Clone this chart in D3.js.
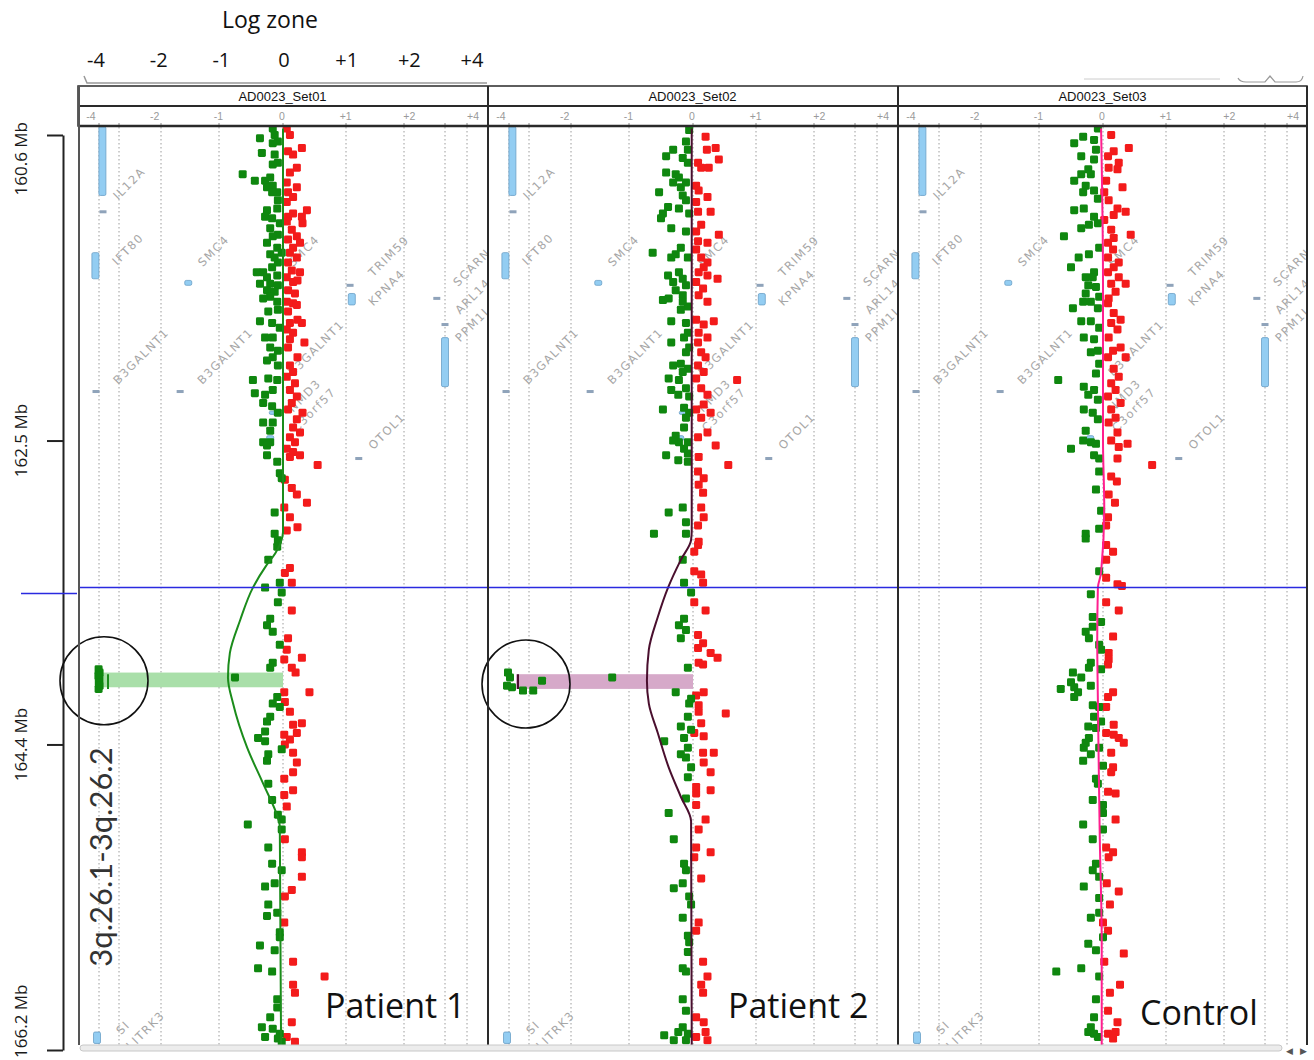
<!DOCTYPE html>
<html>
<head>
<meta charset="utf-8">
<script src="https://cdn.jsdelivr.net/npm/d3@7"></script>
<style>
  body { margin: 0; background: #fff; }
  svg { display: block; }
</style>
</head>
<body>
<div id="chart"></div>
<script>
// ---------- data ----------
const SET_NAMES = ['AD0023_Set01', 'AD0023_Set02', 'AD0023_Set03'];
const SAMPLE_LABELS = ['Patient 1', 'Patient 2', 'Control'];
const ZONE_TICKS = ['-4', '-2', '-1', '0', '+1', '+2', '+4'];
const GRID_VALUES = [-4, -3, -2, -1, 0, 1, 2, 3, 4];
const MB_DOMAIN = [160.6, 166.2];
const MB_TICKS = [160.6, 162.47, 164.33, 166.2];
const MB_TICK_LABELS = ['160.6 Mb', '162.5 Mb', '164.4 Mb', '166.2 Mb'];
const REGION_LABEL = '3q.26.1-3q.26.2';
const CURSOR_MB = 163.37;

// probes: [position Mb, log ratio]
const set01_loss = [[160.56,-0.16],[160.60,-0.13],[160.62,-0.36],[160.64,-0.08],[160.65,-0.16],[160.71,-0.33],[160.72,-0.13],[160.77,-0.08],[160.78,-0.16],[160.84,-0.63],[160.88,-0.44],[160.88,-0.28],[160.86,-0.20],[160.91,-0.16],[160.92,-0.25],[160.95,-0.09],[160.95,-0.17],[161.00,-0.08],[161.06,-0.25],[161.05,-0.09],[161.10,-0.28],[161.11,-0.17],[161.14,-0.05],[161.17,-0.20],[161.21,-0.08],[161.22,-0.16],[161.26,-0.25],[161.29,-0.09],[161.32,-0.02],[161.33,-0.20],[161.35,-0.13],[161.38,-0.08],[161.41,-0.17],[161.44,-0.41],[161.44,-0.31],[161.47,-0.25],[161.46,-0.09],[161.51,-0.36],[161.51,-0.20],[161.52,-0.08],[161.55,-0.25],[161.56,-0.13],[161.59,-0.20],[161.60,-0.31],[161.62,-0.09],[161.68,-0.23],[161.67,-0.08],[161.74,-0.36],[161.75,-0.17],[161.78,-0.05],[161.84,-0.28],[161.84,-0.16],[161.90,-0.20],[161.92,-0.08],[161.96,-0.16],[161.98,-0.25],[162.01,-0.08],[162.10,-0.47],[162.09,-0.23],[162.10,-0.09],[162.18,-0.44],[162.19,-0.28],[162.16,-0.16],[162.24,-0.31],[162.26,-0.17],[162.30,-0.08],[162.36,-0.16],[162.36,-0.31],[162.41,-0.20],[162.48,-0.31],[162.50,-0.25],[162.48,-0.20],[162.56,-0.25],[162.60,-0.09],[162.67,-0.05],[162.70,-0.02],[162.91,-0.13],[163.04,-0.13],[163.08,-0.08],[163.12,-0.09],[163.20,-0.23],[163.37,-0.28],[163.34,-0.05],[163.40,-0.02],[163.46,-0.08],[163.56,-0.20],[163.60,-0.25],[163.64,-0.16],[163.72,-0.05],[163.83,-0.16],[163.86,-0.20],[163.92,-0.75],[164.04,-0.09],[164.08,-0.16],[164.10,-0.05],[164.16,-0.20],[164.19,-0.25],[164.25,-0.28],[164.29,-0.39],[164.31,-0.28],[164.39,-0.23],[164.43,-0.25],[164.36,-0.02],[164.57,-0.23],[164.67,-0.17],[164.76,-0.08],[164.79,-0.02],[164.82,-0.55],[164.85,-0.02],[164.96,-0.23],[165.06,-0.17],[165.10,-0.02],[165.20,-0.28],[165.18,-0.13],[165.31,-0.23],[165.38,-0.25],[165.36,-0.09],[165.48,-0.05],[165.51,-0.05],[165.56,-0.36],[165.59,-0.13],[165.70,-0.39],[165.72,-0.17],[165.89,-0.09],[165.94,-0.09],[166.00,-0.20],[166.06,-0.33],[166.07,-0.16],[166.10,-0.05],[166.12,-0.28],[166.13,-0.08],[166.15,-0.02]];
const set01_gain = [[160.56,0.06],[160.60,0.11],[160.68,0.30],[160.70,0.08],[160.72,0.16],[160.80,0.22],[160.83,0.11],[160.89,0.06],[160.92,0.22],[160.95,0.08],[160.98,0.16],[161.01,0.06],[161.06,0.38],[161.08,0.16],[161.10,0.08],[161.10,0.30],[161.13,0.06],[161.14,0.31],[161.18,0.14],[161.22,0.22],[161.24,0.08],[161.26,0.27],[161.29,0.16],[161.32,0.11],[161.35,0.22],[161.38,0.08],[161.43,0.14],[161.44,0.27],[161.47,0.06],[161.50,0.16],[161.49,0.23],[161.55,0.08],[161.57,0.19],[161.62,0.06],[161.63,0.16],[161.68,0.08],[161.64,0.22],[161.73,0.23],[161.75,0.11],[161.75,0.30],[161.79,0.06],[161.81,0.16],[161.87,0.34],[161.85,0.11],[161.90,0.08],[161.96,0.23],[162.01,0.11],[162.05,0.16],[162.08,0.06],[162.12,0.19],[162.16,0.11],[162.20,0.22],[162.24,0.14],[162.28,0.08],[162.30,0.31],[162.34,0.22],[162.39,0.16],[162.42,0.27],[162.45,0.11],[162.48,0.19],[162.52,0.06],[162.54,0.16],[162.57,0.11],[162.56,0.27],[162.62,0.55],[162.71,0.03],[162.76,0.14],[162.80,0.22],[162.85,0.38],[162.88,0.02],[162.94,0.11],[163.00,0.23],[163.02,0.06],[163.28,0.03],[163.25,0.11],[163.34,0.14],[163.51,0.14],[163.68,0.08],[163.75,0.06],[163.80,0.30],[163.81,0.02],[163.86,0.14],[163.89,0.20],[164.01,0.42],[164.01,0.02],[164.07,0.03],[164.13,0.11],[164.21,0.16],[164.20,0.30],[164.27,0.02],[164.26,0.22],[164.30,0.11],[164.33,0.03],[164.38,0.16],[164.44,0.22],[164.50,0.16],[164.54,0.02],[164.61,0.16],[164.64,0.02],[164.71,0.06],[164.91,0.03],[164.99,0.30],[165.02,0.30],[165.14,0.30],[165.22,0.14],[165.26,0.03],[165.42,0.02],[165.66,0.16],[165.75,0.66],[165.80,0.16],[165.85,0.19],[166.03,0.14],[166.12,0.06],[166.15,0.19]];
const set01_deleted = [[163.87,-4.02],[163.89,-3.97],[163.91,-4.03],[163.93,-3.98],[163.95,-4.01],[163.97,-3.97],[163.99,-4.02]];
const set01_segment = [[160.56,0],[163.03,0],[163.10,-0.04],[163.16,-0.12],[163.24,-0.27],[163.37,-0.47],[163.57,-0.67],[163.77,-0.83],[163.92,-0.86],[164.08,-0.78],[164.35,-0.56],[164.57,-0.31],[164.78,-0.08],[164.83,-0.05],[166.17,-0.03]];
const set01_call = [163.89, 163.98, -3.95, 0];

const set02_loss = [[160.57,-0.06],[160.64,-0.11],[160.69,-0.08],[160.69,-0.31],[160.73,-0.42],[160.74,-0.16],[160.77,-0.08],[160.83,-0.42],[160.84,-0.27],[160.86,-0.22],[160.89,-0.31],[160.92,-0.19],[160.89,-0.11],[160.95,-0.53],[160.97,-0.16],[161.00,-0.11],[161.04,-0.39],[161.05,-0.22],[161.08,-0.47],[161.11,-0.50],[161.08,-0.06],[161.17,-0.34],[161.19,-0.11],[161.29,-0.19],[161.32,-0.63],[161.35,-0.34],[161.33,-0.27],[161.35,-0.08],[161.46,-0.39],[161.44,-0.22],[161.48,-0.16],[161.50,-0.31],[161.52,-0.11],[161.55,-0.27],[161.58,-0.16],[161.61,-0.47],[161.60,-0.38],[161.62,-0.16],[161.65,-0.08],[161.67,-0.19],[161.74,-0.34],[161.75,-0.11],[161.81,-0.08],[161.84,-0.14],[161.87,-0.34],[161.90,-0.06],[161.93,-0.11],[162.00,-0.19],[162.01,-0.31],[162.03,-0.08],[162.05,-0.16],[162.09,-0.38],[162.10,-0.22],[162.16,-0.34],[162.15,-0.11],[162.19,-0.23],[162.20,-0.06],[162.28,-0.47],[162.27,-0.14],[162.30,-0.06],[162.33,-0.11],[162.39,-0.14],[162.44,-0.27],[162.48,-0.22],[162.47,-0.31],[162.48,-0.08],[162.52,-0.14],[162.55,-0.08],[162.56,-0.42],[162.59,-0.23],[162.60,-0.08],[162.91,-0.38],[162.88,-0.16],[162.97,-0.11],[163.04,-0.61],[163.04,-0.11],[163.20,-0.16],[163.34,-0.14],[163.40,-0.03],[163.56,-0.14],[163.60,-0.22],[163.63,-0.11],[163.68,-0.19],[163.86,-0.08],[164.01,-0.27],[164.05,-0.03],[164.08,-0.06],[164.16,-0.08],[164.22,-0.19],[164.24,-0.03],[164.29,-0.14],[164.35,-0.08],[164.39,-0.19],[164.41,-0.11],[164.47,-0.03],[164.53,-0.08],[164.31,-0.45],[164.66,-0.11],[164.75,-0.38],[164.91,-0.30],[165.06,-0.14],[165.10,-0.11],[165.18,-0.16],[165.21,-0.30],[165.26,-0.06],[165.31,-0.03],[165.39,-0.16],[165.50,-0.08],[165.54,-0.06],[165.60,-0.08],[165.70,-0.16],[165.72,-0.11],[165.89,-0.16],[165.96,-0.11],[166.06,-0.16],[166.11,-0.45],[166.09,-0.23],[166.10,-0.08],[166.14,-0.30],[166.14,-0.11]];
const set02_gain = [[160.61,0.20],[160.69,0.22],[160.68,0.36],[160.77,0.08],[160.75,0.41],[160.80,0.13],[160.80,0.25],[160.91,0.05],[160.94,0.09],[160.98,0.23],[161.01,0.05],[161.07,0.08],[161.07,0.28],[161.15,0.13],[161.19,0.05],[161.21,0.41],[161.26,0.23],[161.25,0.08],[161.30,0.05],[161.35,0.13],[161.38,0.23],[161.41,0.17],[161.44,0.09],[161.46,0.23],[161.48,0.39],[161.50,0.05],[161.54,0.16],[161.58,0.09],[161.62,0.23],[161.73,0.05],[161.74,0.33],[161.76,0.17],[161.81,0.09],[161.84,0.23],[161.87,0.08],[161.93,0.13],[161.96,0.20],[162.01,0.08],[162.05,0.17],[162.09,0.05],[162.10,0.70],[162.15,0.13],[162.19,0.23],[162.25,0.17],[162.28,0.05],[162.30,0.28],[162.33,0.13],[162.42,0.23],[162.45,0.08],[162.50,0.36],[162.57,0.09],[162.62,0.56],[162.66,0.08],[162.70,0.17],[162.74,0.09],[162.79,0.16],[162.88,0.13],[162.94,0.17],[162.99,0.08],[163.09,0.09],[163.11,0.08],[163.15,0.02],[163.27,0.02],[163.29,0.13],[163.34,0.16],[163.46,0.02],[163.51,0.20],[163.66,0.08],[163.71,0.16],[163.74,0.08],[163.77,0.28],[163.80,0.39],[163.83,0.09],[163.84,0.16],[164.01,0.17],[164.03,0.05],[164.09,0.09],[164.14,0.52],[164.13,0.09],[164.20,0.13],[164.26,0.02],[164.28,0.17],[164.38,0.16],[164.38,0.33],[164.44,0.17],[164.50,0.28],[164.59,0.05],[164.61,0.28],[164.63,0.05],[164.70,0.05],[164.79,0.20],[164.85,0.09],[164.96,0.05],[164.99,0.28],[165.02,0.02],[165.15,0.13],[165.42,0.09],[165.47,0.05],[165.66,0.16],[165.75,0.23],[165.80,0.13],[165.85,0.16],[166.00,0.05],[166.03,0.17],[166.09,0.20],[166.12,0.05],[166.14,0.23]];
const set02_deleted = [[163.89,-4.05],[163.92,-3.95],[163.97,-4.1],[163.98,-3.85],[164.00,-3.3],[164.00,-2.9],[163.94,-2.69],[163.92,-1.29]];
const set02_segment = [[160.56,-0.02],[163.02,-0.02],[163.08,-0.03],[163.20,-0.19],[163.37,-0.39],[163.55,-0.55],[163.75,-0.69],[163.94,-0.72],[164.08,-0.69],[164.26,-0.55],[164.47,-0.38],[164.65,-0.19],[164.80,-0.03],[166.17,-0.02]];
const set02_call = [163.90, 163.99, -3.65, 0];

const set03_loss = [[160.56,-0.08],[160.61,-0.31],[160.65,-0.45],[160.63,-0.14],[160.69,-0.11],[160.73,-0.34],[160.75,-0.14],[160.81,-0.23],[160.84,-0.34],[160.84,-0.19],[160.88,-0.45],[160.91,-0.27],[160.95,-0.31],[160.94,-0.14],[160.99,-0.08],[161.06,-0.45],[161.05,-0.30],[161.10,-0.14],[161.15,-0.22],[161.17,-0.34],[161.14,-0.08],[161.22,-0.61],[161.29,-0.06],[161.35,-0.38],[161.33,-0.22],[161.41,-0.50],[161.44,-0.14],[161.47,-0.27],[161.47,-0.16],[161.52,-0.23],[161.53,-0.11],[161.57,-0.27],[161.59,-0.06],[161.62,-0.31],[161.62,-0.19],[161.66,-0.47],[161.66,-0.08],[161.74,-0.34],[161.74,-0.19],[161.78,-0.06],[161.84,-0.30],[161.85,-0.14],[161.92,-0.08],[161.93,-0.19],[162.00,-0.06],[162.06,-0.11],[162.10,-0.70],[162.14,-0.30],[162.16,-0.14],[162.19,-0.23],[162.22,-0.08],[162.28,-0.30],[162.30,-0.16],[162.34,-0.08],[162.41,-0.27],[162.47,-0.31],[162.48,-0.19],[162.52,-0.50],[162.49,-0.11],[162.56,-0.14],[162.58,-0.06],[162.66,-0.06],[162.77,-0.11],[162.90,-0.03],[163.01,-0.06],[163.04,-0.27],[163.07,-0.27],[163.27,-0.06],[163.41,-0.19],[163.55,-0.16],[163.58,-0.03],[163.61,-0.16],[163.64,-0.27],[163.68,-0.22],[163.72,-0.06],[163.75,-0.03],[163.83,-0.19],[163.86,-0.22],[163.87,-0.03],[163.89,-0.47],[163.92,-0.34],[163.95,-0.50],[163.99,-0.66],[163.98,-0.45],[164.01,-0.39],[163.97,-0.19],[164.04,-0.45],[164.09,-0.16],[164.10,-0.06],[164.16,-0.14],[164.19,-0.03],[164.22,-0.23],[164.23,-0.11],[164.29,-0.22],[164.35,-0.30],[164.35,-0.06],[164.32,-0.27],[164.39,-0.19],[164.43,-0.31],[164.46,0.0],[164.54,-0.11],[164.57,-0.08],[164.67,-0.16],[164.70,0.0],[164.75,0.0],[164.82,-0.31],[164.85,0.0],[164.91,-0.16],[165.06,-0.11],[165.10,-0.16],[165.14,-0.06],[165.20,-0.30],[165.27,-0.06],[165.39,-0.19],[165.36,-0.06],[165.51,0.0],[165.55,-0.23],[165.59,-0.11],[165.72,-0.73],[165.70,-0.34],[165.75,-0.06],[165.89,-0.11],[166.00,-0.14],[166.06,-0.19],[166.09,-0.23],[166.10,-0.14],[166.12,-0.08]];
const set03_gain = [[160.60,0.13],[160.70,0.17],[160.68,0.41],[160.73,0.08],[160.77,0.25],[160.81,0.23],[160.80,0.09],[160.88,0.05],[160.92,0.31],[160.95,0.02],[161.00,0.09],[161.05,0.23],[161.07,0.36],[161.09,0.17],[161.12,0.02],[161.18,0.13],[161.23,0.17],[161.21,0.44],[161.26,0.08],[161.30,0.16],[161.38,0.25],[161.35,0.08],[161.41,0.17],[161.44,0.08],[161.47,0.25],[161.51,0.36],[161.51,0.13],[161.56,0.20],[161.60,0.09],[161.63,0.08],[161.69,0.17],[161.73,0.28],[161.75,0.13],[161.79,0.23],[161.84,0.09],[161.90,0.28],[161.92,0.16],[161.96,0.36],[161.96,0.08],[162.03,0.17],[162.08,0.25],[162.12,0.13],[162.16,0.20],[162.20,0.08],[162.24,0.28],[162.28,0.13],[162.33,0.20],[162.36,0.09],[162.42,0.23],[162.49,0.39],[162.47,0.13],[162.51,0.25],[162.58,0.23],[162.62,0.78],[162.69,0.13],[162.72,0.22],[162.80,0.09],[162.85,0.19],[162.94,0.08],[162.99,0.05],[163.11,0.05],[163.15,0.16],[163.20,0.05],[163.31,0.05],[163.35,0.23],[163.36,0.30],[163.46,0.05],[163.51,0.25],[163.67,0.16],[163.77,0.09],[163.81,0.09],[163.84,0.08],[164.01,0.16],[164.04,0.08],[164.10,0.05],[164.21,0.17],[164.26,0.05],[164.27,0.17],[164.29,0.25],[164.32,0.33],[164.38,0.13],[164.47,0.16],[164.50,0.13],[164.62,0.08],[164.63,0.20],[164.79,0.20],[164.96,0.05],[164.99,0.16],[165.02,0.09],[165.18,0.06],[165.23,0.25],[165.31,0.11],[165.42,0.0],[165.47,0.08],[165.61,0.33],[165.66,0.02],[165.80,0.27],[165.85,0.11],[165.96,0.08],[166.03,0.23],[166.10,0.08],[166.09,0.20],[166.13,0.16]];
const set03_deleted = [];
const set03_segment = [[160.56,-0.03],[161.5,0.0],[162.47,0.0],[162.88,0.02],[163.28,-0.03],[163.37,-0.08],[163.69,-0.09],[164.06,-0.08],[164.36,-0.07],[164.91,-0.05],[165.53,-0.02],[166.17,-0.02]];
const set03_call = null;

// end of the called segment, drawn as a short bar: [log ratio, start Mb, end Mb]
const SEG_END_MARKS = [[-3.55, 163.90, 163.99], [-3.55, 163.90, 163.99], null];
// highlighted probes in the circles: [log ratio, Mb]
const CIRCLED = [[-3.75, 163.94], [-3.15, 163.96], null];

// gene track (same in every set)
const GENE_BOXES = [[-3.83,160.55,160.97],[-4.18,161.32,161.48],[-1.53,161.49,161.52],[1.10,161.57,161.64],[3.0,161.84,162.14],[-4.1,166.09,166.16],[-0.2,162.44,162.47],[-0.16,162.29,162.31]];
const GENE_DASHES = [[-3.8,161.07],[-1.67,162.17],[-4.15,162.17],[1.07,161.52],[2.80,161.60],[3.0,161.76],[1.22,162.58]];
const GENE_NAMES = [['IL12A',-3.05,161.00],['IFT80',-3.1,161.40],['SMC4',-1.28,161.41],['SMC4',0.16,161.41],['TRIM59',1.47,161.47],['KPNA4',1.47,161.65],['SCARNA7',3.59,161.53],['ARL14',3.68,161.70],['PPM1L',3.68,161.87],['B3GALNT1',-3.05,162.13],['B3GALNT1',-1.29,162.13],['B3GALNT1',0.16,162.08],['NMD3',0.16,162.30],['C3orf57',0.22,162.42],['OTOL1',1.47,162.53],['SI',-2.95,166.11],['SLITRK3',-2.86,166.24]];

// ---------- layout ----------
const W = 1314, H = 1060;
const PANEL_LEFT = [78, 488, 898];
const PANEL_W = 409;
const LOG_ZONE_PX = [21, 41, 83, 141, 205, 268, 326, 367, 389];
const BODY_TOP = 127, BODY_BOTTOM = 1045;
const PROBE = 8;
const LOSS_COLOR = '#0f870f', GAIN_COLOR = '#f31b1b';
const SEG_COLORS = ['#1b8c1b', '#4a0f2e', '#ff1f8e'];
const CALL_COLORS = ['#a9dfa9', '#d6a9c9', null];
const LABEL_POS = [[325, 1018], [728, 1018], [1140, 1025]];

const SETS = SET_NAMES.map((name, i) => ({
  name,
  loss: [set01_loss, set02_loss, set03_loss][i],
  gain: [set01_gain, set02_gain, set03_gain][i],
  deleted: [set01_deleted, set02_deleted, set03_deleted][i],
  segment: [set01_segment, set02_segment, set03_segment][i],
  call: [set01_call, set02_call, set03_call][i]
}));

const svg = d3.select('#chart').append('svg')
  .attr('width', W).attr('height', H)
  .style('font-family', "'Open Sans', sans-serif");

const y = d3.scaleLinear().domain(MB_DOMAIN).range([135, 1050]);

// top "Log zone" legend
svg.append('text')
  .attr('x', 270).attr('y', 28)
  .attr('text-anchor', 'middle')
  .attr('font-size', 23).attr('fill', '#111')
  .text('Log zone');

const zone_top = d3.scalePoint().domain(ZONE_TICKS).range([96, 472]);
svg.append('g').selectAll('text').data(ZONE_TICKS).join('text')
  .attr('x', d => zone_top(d)).attr('y', 67)
  .attr('text-anchor', 'middle')
  .attr('font-size', 20).attr('fill', '#111')
  .text(d => d);

// little scroller decorations above the header
svg.append('path').attr('d', 'M84,76 L87,83 L487,83')
  .attr('fill', 'none').attr('stroke', '#999').attr('stroke-width', 1.5);
svg.append('path').attr('d', 'M1084,79 L1220,79')
  .attr('stroke', '#ccc').attr('stroke-width', 1);
svg.append('path').attr('d', 'M1238,78 Q1240,82 1246,82 L1265,82 L1270,76 L1275,82 L1296,82 Q1302,82 1303,76')
  .attr('fill', 'none').attr('stroke', '#999').attr('stroke-width', 1.2);

// left Mb axis
const axis_g = svg.append('g')
  .attr('transform', 'translate(63,0)')
  .call(d3.axisLeft(y).tickValues(MB_TICKS).tickSize(16).tickSizeOuter(0).tickFormat(''));
axis_g.select('.domain').attr('stroke', '#222').attr('stroke-width', 2);
axis_g.selectAll('.tick line').attr('stroke', '#222').attr('stroke-width', 2);

MB_TICKS.forEach((t, i) => {
  const last = MB_TICKS.length - 1;
  const anchor = i === 0 ? 'end' : (i === last ? 'start' : 'middle');
  const ty = i === 0 ? y(t) - 13 : (i === last ? y(t) + 8 : y(t));
  svg.append('text')
    .attr('transform', `translate(27,${ty}) rotate(-90)`)
    .attr('text-anchor', anchor)
    .attr('font-size', 17).attr('fill', '#1a1a1a')
    .text(MB_TICK_LABELS[i]);
});

// ---------- panels ----------
const defs = svg.append('defs');

SETS.forEach((set, i) => {
  const left = PANEL_LEFT[i];
  const x = d3.scaleLinear().domain(GRID_VALUES).range(LOG_ZONE_PX.map(p => left + p));

  defs.append('clipPath').attr('id', `clip${i}`)
    .append('rect')
    .attr('x', left + 1).attr('y', BODY_TOP)
    .attr('width', PANEL_W - 1).attr('height', BODY_BOTTOM - BODY_TOP);

  const body = svg.append('g').attr('clip-path', `url(#clip${i})`);

  // dotted log-zone grid
  body.selectAll(null).data(GRID_VALUES).join('line')
    .attr('x1', d => x(d)).attr('x2', d => x(d))
    .attr('y1', BODY_TOP).attr('y2', BODY_BOTTOM)
    .attr('stroke', '#9c9c9c').attr('stroke-width', 1)
    .attr('stroke-dasharray', '1.5,2.5');

  // gene track
  body.selectAll(null).data(GENE_BOXES).join('rect')
    .attr('x', d => x(d[0]) - 3.5).attr('y', d => y(d[1]))
    .attr('width', 7).attr('height', d => y(d[2]) - y(d[1]))
    .attr('rx', 1.5)
    .attr('fill', '#93cdf2').attr('stroke', '#6a9fc6').attr('stroke-width', 0.8);
  body.selectAll(null).data(GENE_DASHES).join('rect')
    .attr('x', d => x(d[0]) - 3.5).attr('y', d => y(d[1]) - 1.5)
    .attr('width', 7).attr('height', 3)
    .attr('fill', '#8fa3ba');
  body.selectAll(null).data(GENE_NAMES).join('text')
    .attr('transform', d => `translate(${x(d[1])},${y(d[2])}) rotate(-45)`)
    .attr('font-family', "'DejaVu Sans', sans-serif")
    .attr('font-size', 11.5).attr('letter-spacing', 1.5)
    .attr('fill', '#a6a6a6')
    .text(d => d[0]);

  // called region band
  if (set.call) {
    body.append('rect')
      .attr('x', x(set.call[2])).attr('y', y(set.call[0]))
      .attr('width', x(set.call[3]) - x(set.call[2]))
      .attr('height', y(set.call[1]) - y(set.call[0]))
      .attr('fill', CALL_COLORS[i]);
  }

  // probes
  const draw_probes = (data, color) => body.selectAll(null).data(data).join('rect')
    .attr('x', d => x(d[1]) - PROBE / 2).attr('y', d => y(d[0]) - PROBE / 2)
    .attr('width', PROBE).attr('height', PROBE).attr('rx', 1.4)
    .attr('fill', color);
  draw_probes(set.gain, GAIN_COLOR);
  draw_probes(set.loss, LOSS_COLOR);
  draw_probes(set.deleted, LOSS_COLOR);

  if (SEG_END_MARKS[i]) {
    const m = SEG_END_MARKS[i];
    body.append('line')
      .attr('x1', x(m[0])).attr('x2', x(m[0]))
      .attr('y1', y(m[1])).attr('y2', y(m[2]))
      .attr('stroke', SEG_COLORS[i]).attr('stroke-width', 2);
  }

  // smoothed segmentation
  body.append('path')
    .datum(set.segment)
    .attr('d', d3.line().curve(d3.curveMonotoneY)
      .x(d => x(d[1]))
      .y(d => y(d[0])))
    .attr('fill', 'none')
    .attr('stroke', SEG_COLORS[i]).attr('stroke-width', 2);

  // header: set name + zone ticks
  svg.append('text')
    .attr('x', left + PANEL_W / 2).attr('y', 101)
    .attr('text-anchor', 'middle')
    .attr('font-family', "'Liberation Sans', Arial, sans-serif")
    .attr('font-size', 13).attr('fill', '#111')
    .text(set.name);

  const zone_head = d3.scalePoint().domain(ZONE_TICKS).range([left + 13, left + 395]);
  svg.append('g').selectAll('text').data(ZONE_TICKS).join('text')
    .attr('x', d => zone_head(d)).attr('y', 120)
    .attr('text-anchor', 'middle')
    .attr('font-family', "'Liberation Sans', Arial, sans-serif")
    .attr('font-size', 10.5).attr('fill', '#9a9a9a')
    .text(d => d);
  svg.append('g').selectAll('line').data(GRID_VALUES).join('line')
    .attr('x1', d => x(d)).attr('x2', d => x(d))
    .attr('y1', 123).attr('y2', 126)
    .attr('stroke', '#888');

  // sample label
  svg.append('text')
    .attr('x', LABEL_POS[i][0]).attr('y', LABEL_POS[i][1])
    .attr('font-size', 34).attr('fill', '#111')
    .text(SAMPLE_LABELS[i]);

  if (CIRCLED[i]) {
    svg.append('circle')
      .attr('cx', x(CIRCLED[i][0])).attr('cy', y(CIRCLED[i][1]))
      .attr('r', 44)
      .attr('fill', 'none').attr('stroke', '#111').attr('stroke-width', 1.6);
  }
});

// cursor line
svg.append('line')
  .attr('x1', 78).attr('x2', 1307)
  .attr('y1', y(CURSOR_MB)).attr('y2', y(CURSOR_MB))
  .attr('stroke', '#2a2ae0').attr('stroke-width', 1.5);
svg.append('line')
  .attr('x1', 21).attr('x2', 77)
  .attr('y1', y(CURSOR_MB) + 6).attr('y2', y(CURSOR_MB) + 6)
  .attr('stroke', '#2a2ae0').attr('stroke-width', 1.5);

// header frame and panel separators
const frame = svg.append('g').attr('fill', 'none').attr('stroke', '#2a2a2a');
frame.append('rect').attr('x', 78).attr('y', 86).attr('width', 1229).attr('height', 40).attr('stroke-width', 1.5);
frame.append('line').attr('x1', 78).attr('x2', 1307).attr('y1', 106).attr('y2', 106).attr('stroke-width', 2);
frame.append('line').attr('x1', 78).attr('x2', 1307).attr('y1', 126).attr('y2', 126).attr('stroke-width', 2.5);
frame.append('line').attr('x1', 79).attr('x2', 79).attr('y1', 86).attr('y2', BODY_BOTTOM).attr('stroke-width', 2).attr('stroke', '#555');
PANEL_LEFT.slice(1).concat([1307]).forEach(px => {
  frame.append('line').attr('x1', px).attr('x2', px)
    .attr('y1', 86).attr('y2', BODY_BOTTOM).attr('stroke-width', 2);
});

// region label
svg.append('text')
  .attr('transform', `translate(112,${(747 + 967) / 2}) rotate(-90)`)
  .attr('text-anchor', 'middle')
  .attr('font-family', "Lato, 'Open Sans', sans-serif")
  .attr('font-size', 31).attr('fill', '#333')
  .text(REGION_LABEL);

// bottom scroll bar
svg.append('rect').attr('x', 80).attr('y', 1045).attr('width', 1202).attr('height', 6)
  .attr('rx', 3).attr('fill', '#ececec').attr('stroke', '#c8c8c8');
svg.append('text').attr('x', 1286).attr('y', 1054).attr('font-size', 9).attr('fill', '#555').text('◀');
svg.append('text').attr('x', 1300).attr('y', 1054).attr('font-size', 9).attr('fill', '#555').text('▶');
</script>
</body>
</html>
